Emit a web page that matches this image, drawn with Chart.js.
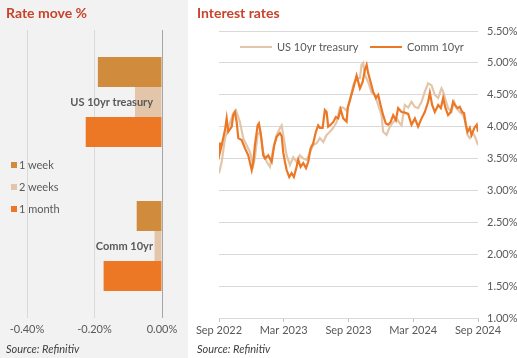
<!DOCTYPE html>
<html>
<head>
<meta charset="utf-8">
<script src="https://cdn.jsdelivr.net/npm/chart.js@4/dist/chart.umd.min.js"></script>
<style>
  body { margin: 0; width: 517px; height: 358px; position: relative; overflow: hidden; background: #fff; font-family: Lato, 'Open Sans', sans-serif; }
  #leftPanel { position: absolute; left: 0; top: 0; width: 188px; height: 358px; background: #f2f2f2; }
  .title { position: absolute; top: 4px; font-weight: bold; font-size: 14px; color: #c9422b; line-height: 18px; }
  .source { position: absolute; top: 342px; font-style: italic; font-size: 11px; color: #404040; line-height: 14px; }
  canvas { position: absolute; top: 0; }
  .lg { position: absolute; font-size: 11px; color: #595959; line-height: 14px; }
  .sq { display: inline-block; width: 6px; height: 6px; margin-right: 2px; vertical-align: 1px; }
  .ln { display: inline-block; width: 32px; height: 2.5px; margin-right: 5px; vertical-align: 3px; }
</style>
</head>
<body>
<div id="leftPanel"></div>
<canvas id="moveChart" width="188" height="358" style="left:0"></canvas>
<canvas id="rateChart" width="329" height="358" style="left:188px"></canvas>

<div class="title" style="left:6px">Rate move %</div>
<div class="title" style="left:197px">Interest rates</div>
<div class="source" style="left:6px">Source: Refinitiv</div>
<div class="source" style="left:197px">Source: Refinitiv</div>

<div class="lg" style="left:11px;top:158px"><span class="sq" style="background:#d08c3c"></span>1 week</div>
<div class="lg" style="left:11px;top:180px"><span class="sq" style="background:#e3c6aa"></span>2 weeks</div>
<div class="lg" style="left:11px;top:202px"><span class="sq" style="background:#ec7725"></span>1 month</div>

<div class="lg" style="left:240px;top:40px"><span class="ln" style="background:#e3c6aa"></span>US 10yr treasury</div>
<div class="lg" style="left:370px;top:40px"><span class="ln" style="background:#ec7725"></span>Comm 10yr</div>

<script>
'use strict';
// rate moves, percentage points
let moveLabels = ['US 10yr treasury', 'Comm 10yr'];
let oneWeek = [-0.19, -0.075];
let twoWeeks = [-0.08, -0.022];
let oneMonth = [-0.226, -0.173];

// line chart, x = months since Sep 2022
let tickLabels = ['Sep 2022', 'Mar 2023', 'Sep 2023', 'Mar 2024', 'Sep 2024'];
let usMonths = [0, 0.25, 0.56, 0.86, 1.32, 1.55, 1.79, 1.94, 2.25, 2.56, 2.87, 3.18, 3.33, 3.58, 3.8, 4.1, 4.42, 4.72,
  5.03, 5.34, 5.65, 5.81, 5.95, 6.27, 6.57, 6.88, 7.19, 7.5, 7.81, 8.12, 8.43, 8.73, 9.05, 9.35, 9.66, 9.97, 10.28,
  10.58, 10.9, 11.2, 11.51, 11.82, 12.13, 12.44, 12.75, 13.06, 13.21, 13.36, 13.52, 13.82, 14.14, 14.44, 14.75,
  15.06, 15.21, 15.53, 15.83, 16.14, 16.45, 16.76, 16.92, 17.22, 17.53, 17.84, 18.15, 18.45, 18.77, 19.07, 19.38,
  19.69, 20, 20.31, 20.62, 20.77, 20.99, 21.23, 21.54, 21.79, 22.01, 22.31, 22.62, 22.84, 23.03, 23.24, 23.55,
  23.77, 24];
let us10yr = [3.27, 3.45, 3.82, 3.98, 4.21, 4.26, 4.15, 4.07, 3.82, 3.71, 3.6, 3.4, 3.52, 3.87, 3.92, 3.6, 3.45, 3.37,
  3.66, 3.87, 3.98, 4.02, 3.87, 3.55, 3.4, 3.52, 3.45, 3.55, 3.5, 3.48, 3.6, 3.71, 3.74, 3.82, 3.76, 3.87, 3.92,
  3.98, 4.07, 4.3, 4.3, 4.25, 4.4, 4.65, 4.76, 4.76, 4.97, 5.0, 4.81, 4.7, 4.54, 4.5, 4.34,
  4.18, 3.92, 3.87, 4.0, 4.07, 4.13, 4.05, 4.02, 4.34, 4.3, 4.39, 4.31, 4.29, 4.39, 4.55, 4.68,
  4.65, 4.5, 4.45, 4.6, 4.55, 4.42, 4.29, 4.23, 4.39, 4.29, 4.23, 4.18, 4.07, 3.87, 3.82, 3.9,
  3.82, 3.71];
let commMonths = [0, 0.09, 0.25, 0.56, 0.71, 0.86, 1.18, 1.32, 1.48, 1.64, 1.79, 2.1, 2.41, 2.71, 3.03, 3.18, 3.33,
  3.58, 3.7, 3.89, 4.1, 4.26, 4.56, 4.88, 5.12, 5.34, 5.65, 5.81, 5.95, 6.11, 6.27, 6.51, 6.73, 6.94, 7.19, 7.34,
  7.56, 7.81, 8.06, 8.27, 8.49, 8.73, 8.98, 9.19, 9.35, 9.6, 9.81, 9.97, 10.12, 10.34, 10.58, 10.83, 11.05, 11.27,
  11.51, 11.82, 11.94, 12.13, 12.44, 12.75, 13.06, 13.31, 13.52, 13.68, 13.82, 14.05, 14.29, 14.54, 14.75, 14.97,
  15.21, 15.46, 15.68, 15.9, 16.14, 16.39, 16.6, 16.92, 17.22, 17.53, 17.84, 18.15, 18.45, 18.77, 19.07, 19.38,
  19.54, 19.75, 20, 20.31, 20.56, 20.77, 20.99, 21.23, 21.48, 21.69, 21.85, 22.1, 22.31, 22.53, 22.71, 22.87,
  23.03, 23.24, 23.4, 23.66, 23.88, 24];
let comm10yr = [3.75, 3.6, 3.71, 3.95, 4.13, 3.92, 4.0, 4.18, 4.23, 4.07, 3.82, 3.79, 3.66, 3.55, 3.32, 3.45, 3.71,
  4.02, 4.05, 3.87, 3.55, 3.5, 3.55, 3.45, 3.71, 3.84, 3.9, 3.85, 3.6, 3.45, 3.32, 3.21, 3.27, 3.21, 3.37, 3.48,
  3.37, 3.43, 3.35, 3.45, 3.66, 3.74, 3.92, 4.02, 3.98, 3.98, 4.26, 4.23, 4.0, 4.03, 4.07, 4.15, 4.13, 4.27,
  4.13, 4.08, 4.3, 4.42, 4.6, 4.8, 4.6, 4.7, 4.89, 4.97, 4.84, 4.7, 4.54, 4.45, 4.5, 4.34,
  4.18, 4.05, 4.03, 4.07, 4.18, 4.1, 4.29, 4.23, 4.22, 4.2, 4.03, 4.13, 4.0, 4.13, 4.23, 4.39,
  4.53, 4.34, 4.23, 4.34, 4.29, 4.45, 4.29, 4.18, 4.23, 4.39, 4.34, 4.29, 4.31, 4.23, 4.21, 4.03,
  3.92, 3.98, 3.87, 3.98, 4.03, 3.92];

let tickFont = { family: 'Lato', size: 11 };

function pairs(xs, ys) {
  let out = [];
  for (let i = 0; i < xs.length; i++) {
    out.push({ x: xs[i], y: ys[i] });
  }
  return out;
}

// category names sit inside the plot, right-aligned next to zero
let categoryNames = {
  id: 'categoryNames',
  afterDatasetsDraw(chart) {
    let ctx = chart.ctx;
    let xs = chart.scales.x;
    let ys = chart.scales.y;
    ctx.save();
    ctx.font = 'bold 11px Lato';
    ctx.fillStyle = '#595959';
    ctx.textAlign = 'right';
    ctx.textBaseline = 'middle';
    for (let i = 0; i < moveLabels.length; i++) {
      ctx.fillText(moveLabels[i], xs.getPixelForValue(0) - 9, ys.getPixelForValue(i));
    }
    ctx.restore();
  }
};

new Chart(document.getElementById('moveChart').getContext('2d'), {
  type: 'bar',
  data: {
    labels: moveLabels,
    datasets: [
      { label: '1 week', data: oneWeek, backgroundColor: '#d08c3c' },
      { label: '2 weeks', data: twoWeeks, backgroundColor: '#e3c6aa' },
      { label: '1 month', data: oneMonth, backgroundColor: '#ec7725' }
    ]
  },
  options: {
    indexAxis: 'y',
    responsive: false,
    animation: false,
    layout: { padding: { left: 27, right: 26, top: 30, bottom: 0 } },
    datasets: { bar: { categoryPercentage: 0.625, barPercentage: 1 } },
    plugins: { legend: { display: false }, tooltip: { enabled: false } },
    scales: {
      x: {
        min: -0.4,
        max: 0,
        ticks: {
          stepSize: 0.2,
          padding: 5,
          color: '#595959',
          font: tickFont,
          callback: v => v.toFixed(2) + '%'
        },
        grid: {
          drawTicks: false,
          color: c => (c.tick && c.tick.value === 0) ? '#a6a6a6' : '#d9d9d9'
        },
        border: { display: false },
        afterFit: s => { s.height = 40; }
      },
      y: { display: false }
    }
  },
  plugins: [categoryNames]
});

new Chart(document.getElementById('rateChart').getContext('2d'), {
  type: 'line',
  data: {
    datasets: [
      { label: 'Comm 10yr', data: pairs(commMonths, comm10yr), borderColor: '#ec7725', borderWidth: 2.2 },
      { label: 'US 10yr treasury', data: pairs(usMonths, us10yr), borderColor: '#e3c6aa', borderWidth: 2.2 }
    ]
  },
  options: {
    responsive: false,
    animation: false,
    layout: { padding: { left: 31, right: 0, top: 31, bottom: 0 } },
    elements: { point: { radius: 0 }, line: { tension: 0 } },
    plugins: { legend: { display: false }, tooltip: { enabled: false } },
    scales: {
      x: {
        type: 'linear',
        min: 0,
        max: 24,
        ticks: {
          stepSize: 6,
          padding: 2,
          maxRotation: 0,
          color: '#595959',
          font: tickFont,
          callback: v => tickLabels[v / 6]
        },
        grid: { drawOnChartArea: false, tickLength: 4, color: '#bfbfbf' },
        border: { color: '#d9d9d9' },
        afterFit: s => { s.height = 40; }
      },
      y: {
        position: 'right',
        min: 1,
        max: 5.5,
        ticks: {
          stepSize: 0.5,
          padding: 9,
          color: '#595959',
          font: tickFont,
          callback: v => v.toFixed(2) + '%'
        },
        grid: { drawTicks: false, color: '#d9d9d9' },
        border: { display: false },
        afterFit: s => { s.width = 39; }
      }
    }
  }
});
</script>
</body>
</html>
